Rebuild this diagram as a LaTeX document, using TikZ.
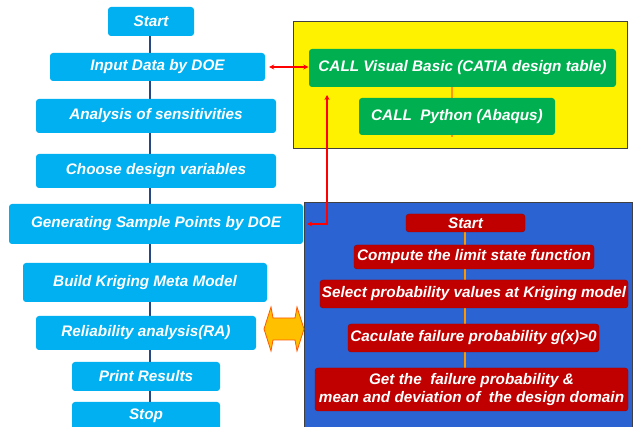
\documentclass[tikz,border=0pt]{standalone}
\usepackage{fontspec}
\setmainfont{Liberation Sans}
\usetikzlibrary{arrows.meta,backgrounds}
\pgfdeclarelayer{panels}
\pgfsetlayers{panels,background,main}
\definecolor{cyanc}{RGB}{0,176,240}
\definecolor{greenc}{RGB}{0,176,80}
\definecolor{redc}{RGB}{192,0,0}
\definecolor{bluep}{RGB}{43,99,211}
\definecolor{flowc}{RGB}{40,70,130}
\definecolor{orangel}{RGB}{255,150,0}
\definecolor{goldc}{RGB}{255,192,0}
\tikzset{
  box/.style={rounded corners=3pt, text=white, inner sep=0pt, align=center,
    font=\bfseries\itshape\fontsize{15.3}{18}\selectfont},
  cbox/.style={box, fill=cyanc},
  gbox/.style={box, fill=greenc},
  rbox/.style={box, fill=redc, draw=redc!80!black, line width=0.4pt},
  flow/.style={draw=flowc, line width=2.6pt},
  oline/.style={draw=orangel, line width=2pt},
  rarrow/.style={draw=red, line width=1.2pt, {Stealth[length=5pt,width=5pt]}-{Stealth[length=5pt,width=5pt]}}
}
\begin{document}
\begin{tikzpicture}[x=1pt,y=-1pt]
\useasboundingbox (0,0) rectangle (640,427);
\clip (0,0) rectangle (640,427);
\begin{pgfonlayer}{panels}
\fill[white] (0,0) rectangle (640,427);
\filldraw[fill=yellow, draw=black!75, line width=0.8pt] (293,21) rectangle (627,148);
\filldraw[fill=bluep, draw=black!75, line width=0.8pt] (304,202) rectangle (632,440);
\end{pgfonlayer}
% left column
\node[cbox, minimum width=86, minimum height=29] (start) at (151,21.5) {Start};
\node[cbox, minimum width=215, minimum height=28] (input) at (157.5,67) {Input Data by DOE};
\node[cbox, minimum width=240, minimum height=34] (anal) at (156,116) {Analysis of sensitivities};
\node[cbox, minimum width=240, minimum height=34] (choose) at (156,171) {Choose design variables};
\node[cbox, minimum width=294, minimum height=40] (gen) at (156,224) {Generating Sample Points by DOE};
\node[cbox, minimum width=244, minimum height=39] (build) at (145,282.5) {Build Kriging Meta Model};
\node[cbox, minimum width=220, minimum height=34] (rel) at (146,333) {Reliability analysis(RA)};
\node[cbox, minimum width=148, minimum height=29] (print) at (146,376.5) {Print Results};
\node[cbox, minimum width=148, minimum height=28] (stop) at (146,416) {Stop};
% green boxes
\node[gbox, minimum width=307, minimum height=38] (vb) at (462.5,68) {CALL Visual Basic (CATIA design table)};
\node[gbox, minimum width=196, minimum height=37] (py) at (457,116.5) {CALL\ \ Python (Abaqus)};
% red boxes
\node[rbox, minimum width=119, minimum height=18] (rstart) at (465.5,223) {Start};
\node[rbox, minimum width=240, minimum height=24] (rcomp) at (474,257) {Compute the limit state function};
\node[rbox, minimum width=308, minimum height=28] (rsel) at (474,294) {Select probability values at Kriging model};
\node[rbox, minimum width=251, minimum height=28] (rcalc) at (473.5,338) {Caculate failure probability g(x)>0};
\node[rbox, minimum width=313, minimum height=43] (rget) at (471.5,389.5) {Get the\ \ failure probability \&\\mean and deviation of\ \ the design domain};
% connectors
\coordinate (oend) at (452,137);
\coordinate (vbup) at (327,95);
\begin{scope}[on background layer]
\draw[flow] (start.south -| 150,0) -- (stop.north -| 150,0);
\draw[oline] (vb.south -| oend) -- (oend);
\draw[oline] (rstart.south -| 465,0) -- (rget.north -| 465,0);
\end{scope}
\draw[rarrow, shorten <=4pt, shorten >=0.5pt] (input.east) -- (input.east -| vb.west);
\draw[rarrow, shorten <=4pt] (gen.east) -| (vbup);
% double block arrow
\filldraw[fill=goldc, draw=orange!70!red, line width=0.8pt]
  (264,329) -- (271,307) -- (273,318) -- (295,318) -- (297,307) -- (304,329)
  -- (297,351) -- (295,340) -- (273,340) -- (271,351) -- cycle;
\end{tikzpicture}
\end{document}
